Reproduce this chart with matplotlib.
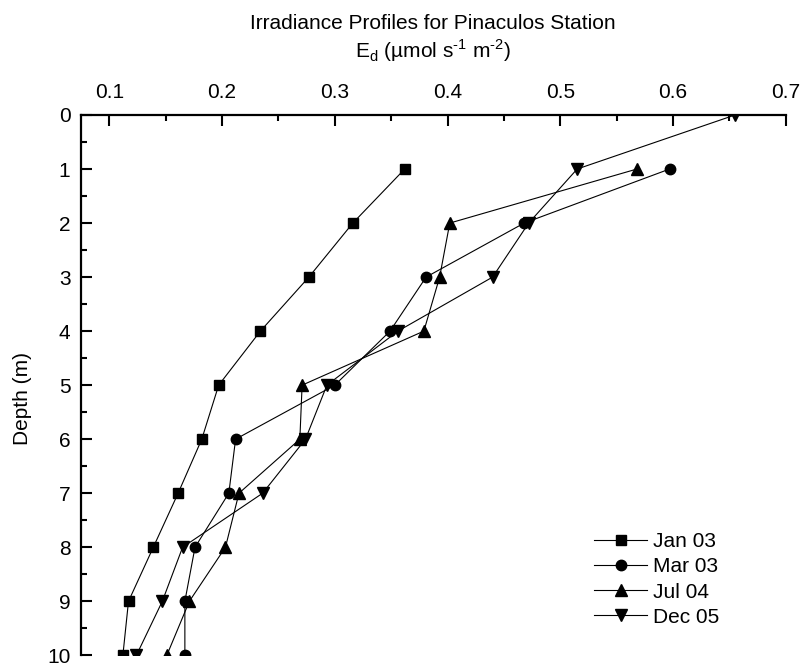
import matplotlib
matplotlib.use("Agg")
import matplotlib.pyplot as plt
from matplotlib.ticker import MultipleLocator

plt.rcParams['font.family'] = ['Liberation Sans', 'DejaVu Sans']
plt.rcParams['mathtext.fontset'] = 'custom'
plt.rcParams['mathtext.rm'] = 'Liberation Sans'

# Downwelling irradiance profiles, Pinaculos station
depth_jan03 = [1, 2, 3, 4, 5, 6, 7, 8, 9, 10]
ed_jan03 = [0.362, 0.316, 0.277, 0.234, 0.197, 0.182, 0.161, 0.139, 0.117, 0.112]

depth_mar03 = [1, 2, 3, 4, 5, 6, 7, 8, 9, 10]
ed_mar03 = [0.597, 0.468, 0.381, 0.349, 0.300, 0.212, 0.206, 0.176, 0.167, 0.167]

depth_jul04 = [1, 2, 3, 4, 5, 6, 7, 8, 9, 10]
ed_jul04 = [0.568, 0.402, 0.393, 0.379, 0.271, 0.269, 0.215, 0.203, 0.171, 0.151]

depth_dec05 = [0, 1, 2, 3, 4, 5, 6, 7, 8, 9, 10]
ed_dec05 = [0.655, 0.515, 0.472, 0.440, 0.356, 0.293, 0.274, 0.236, 0.165, 0.147, 0.124]

series = [
    ("Jan 03", ed_jan03, depth_jan03, "s", 7),
    ("Mar 03", ed_mar03, depth_mar03, "o", 7.5),
    ("Jul 04", ed_jul04, depth_jul04, "^", 8.5),
    ("Dec 05", ed_dec05, depth_dec05, "v", 8.5),
]

fig = plt.figure(figsize=(8.03, 6.69), dpi=100)
ax = fig.add_axes([81.5 / 803, 1 - 655.3 / 669, (785.7 - 81.5) / 803, (655.3 - 115) / 669])

for label, x, y, m, ms in series:
    ax.plot(x, y, color="black", lw=0.8, marker=m, markersize=ms,
            markerfacecolor="black", markeredgecolor="black", label=label)

ax.set_xlim(0.0753, 0.7)
ax.set_ylim(10, 0)

ax.xaxis.set_major_locator(MultipleLocator(0.1))
ax.xaxis.set_minor_locator(MultipleLocator(0.05))
ax.yaxis.set_major_locator(MultipleLocator(1))
ax.yaxis.set_minor_locator(MultipleLocator(0.5))
ax.xaxis.set_major_formatter(matplotlib.ticker.FuncFormatter(lambda v, p: f"{v:.1f}"))

ax.xaxis.tick_top()
ax.tick_params(axis="x", which="both", top=True, bottom=False, labeltop=True,
               labelbottom=False, direction="in")
ax.tick_params(axis="y", which="both", left=True, right=False, direction="in")
ax.tick_params(which="major", length=8, width=1.5, labelsize=15)
ax.tick_params(which="minor", length=4.5, width=1.5)
ax.tick_params(axis="x", which="major", pad=9)
ax.tick_params(axis="y", which="major", pad=8)

for side in ("right", "bottom"):
    ax.spines[side].set_visible(False)
for side in ("top", "left"):
    ax.spines[side].set_linewidth(1.6)

fig.text(23 / 803, 1 - 399 / 669, "Depth (m)", rotation=90, fontsize=15,
         ha="center", va="center")
fig.text(433 / 803, 1 - 29 / 669, "Irradiance Profiles for Pinaculos Station",
         fontsize=15, ha="center", va="baseline")
fig.text(433 / 803, 1 - 58 / 669,
         r"E$_\mathregular{d}$ (µmol s$^{\text{-1}}$ m$^{\text{-2}}$)",
         fontsize=15, ha="center", va="baseline")

ax.legend(loc="upper left", bbox_to_anchor=(594 / 803, 1 - 532 / 669),
          bbox_transform=fig.transFigure, frameon=False, fontsize=15,
          handlelength=2.55, handletextpad=0.3, labelspacing=0.3,
          borderpad=0, borderaxespad=0)

fig.savefig("out.png", dpi=100)
